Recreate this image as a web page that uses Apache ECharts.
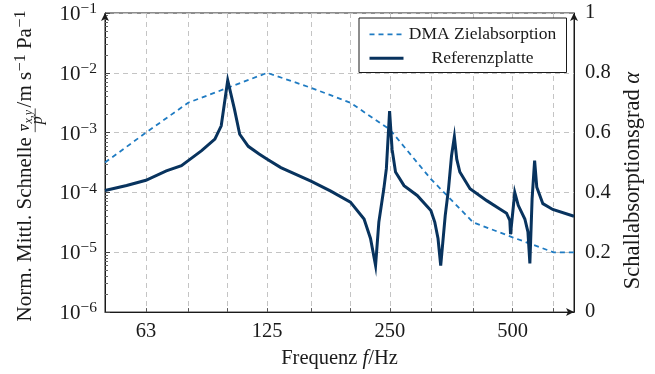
<!DOCTYPE html>
<html>
<head>
<meta charset="utf-8">
<script src="https://cdn.jsdelivr.net/npm/echarts@6/dist/echarts.min.js"></script>
<style>
  html, body { margin: 0; padding: 0; background: #fff; }
  #chart { width: 655px; height: 374px; }
</style>
</head>
<body>
<div id="chart"></div>
<script>
// Third-octave band centre frequencies used for grid lines and ticks (Hz)
const bandFreqs = [63, 80, 100, 125, 160, 200, 250, 315, 400, 500, 630];
const freqLabels = [63, 125, 250, 500];
const freqMin = 50;
const freqMax = 707;

// Minor ticks of the logarithmic velocity axis
const minorTicks = [];
for (let e = -6; e < -1; e++) {
  for (let m = 2; m <= 9; m++) minorTicks.push(m * Math.pow(10, e));
}

// Target absorption coefficient (right axis)
const targetFreq  = [50, 63, 80, 100, 125, 160, 200, 250, 315, 400, 500, 630, 707];
const targetAlpha = [0.50, 0.60, 0.70, 0.75, 0.80, 0.75, 0.70, 0.61, 0.445, 0.30, 0.25, 0.20, 0.20];

// Normalised mean surface velocity of the reference plate (left axis)
const plateFreq = [50, 56.5, 63, 70.7, 77, 80, 86.3, 93, 96.4, 100, 103.9, 107, 112.3, 119.4, 125, 135, 160, 179, 200,
  216, 224, 230.5, 234.8, 241.5, 245, 249.5, 253, 258, 270.7, 291.6, 315, 322, 328, 333, 341.6, 348, 354,
  359.7, 364.6, 371, 393, 432, 465, 483, 492, 494, 506, 516, 535.6, 545, 551, 558, 566, 573, 593, 627, 707];
const plateVel = [1.08e-4, 1.31e-4, 1.6e-4, 2.29e-4, 2.8e-4, 3.4e-4, 5.0e-4, 7.8e-4, 1.3e-3, 7.5e-3, 2.45e-3, 9.4e-4,
  5.9e-4, 4.4e-4, 3.6e-4, 2.6e-4, 1.55e-4, 1.05e-4, 6.9e-5,
  3.6e-5, 1.7e-5, 6.0e-6, 3.2e-5, 1.15e-4, 2.5e-4, 2.3e-3, 5.3e-4, 2.2e-4, 1.3e-4, 8.9e-5, 5.0e-5, 3.2e-5,
  1.7e-5, 6.0e-6, 4.1e-5, 1.15e-4, 4.1e-4,
  8.5e-4, 3.6e-4, 2.2e-4, 1.15e-4, 7.3e-5, 5.3e-5, 4.5e-5, 3.4e-5, 2.0e-5, 1.0e-4, 6.1e-5, 3.6e-5, 2.2e-5,
  6.5e-6, 7.8e-5, 3.4e-4, 1.22e-4, 6.5e-5, 5.2e-5, 4.0e-5];

const FONT = "'Liberation Serif', 'Times New Roman', serif";
const TEXT = '#1a1a1a';
const AXIS = '#1a1a1a';
const GRID = '#c4c4c4';
const DARK = '#08335e';
const LIGHT = '#1f7bc2';

const zip = (xs, ys) => xs.map((x, i) => [x, ys[i]]);

const chart = echarts.init(document.getElementById('chart'), null, { renderer: 'canvas' });

// text measuring for the composed left axis title
const mctx = document.createElement('canvas').getContext('2d');
function tw(s, size, italic) {
  mctx.font = (italic ? 'italic ' : '') + size + 'px ' + FONT;
  return mctx.measureText(s).width;
}

// Left axis title: "Norm. Mittl. Schnelle  v̄_{x,y}/p  /m s^-1 Pa^-1", read bottom to top
function buildLeftTitle() {
  const F = 21, FS = 16, FSS = 12;
  const kids = [];
  // place text so that its alphabetic baseline lies at local y = bl
  function txt(s, x, bl, size, italic) {
    kids.push({
      type: 'text', x: x, y: bl - 0.34 * size,
      style: { text: s, font: (italic ? 'italic ' : '') + size + 'px ' + FONT,
               fill: TEXT, align: 'left', verticalAlign: 'middle' }
    });
    return x + tw(s, size, italic);
  }
  function line(x1, y1, x2, y2, w) {
    kids.push({ type: 'line', shape: { x1, y1, x2, y2 }, style: { stroke: TEXT, lineWidth: w } });
  }
  let x = txt('Norm. Mittl. Schnelle', 0, 0, F, false);
  x += 5;
  const xf = x;
  const wv = tw('v', FS, true);
  const wsub = tw('x,y', FSS, true);
  const wNum = wv + wsub + 2;
  txt('v', xf + 1, -2.5, FS, true);
  line(xf + 1.5, -11.5, xf + 1 + wv, -11.5, 0.8);
  txt('x,y', xf + 1.5 + wv, 0.3, FSS, true);
  line(xf, 2.2, xf + wNum + 1, 2.2, 0.8);
  const wp = tw('p', FS, true);
  txt('p', xf + (wNum + 1 - wp) / 2, 10.5, FS, true);
  x = xf + wNum + 2;
  x = txt('/m s', x, 0, F, false);
  x = txt('\u22121', x + 0.5, -6.5, FS, false);
  x = txt(' Pa', x, 0, F, false);
  x = txt('\u22121', x + 0.5, -6.5, FS, false);
  return { type: 'group', x: 33, y: 321.5, rotation: Math.PI / 2, children: kids, silent: true };
}

const option = {
  animation: false,
  backgroundColor: '#fff',
  textStyle: { fontFamily: FONT },
  grid: { left: 105, right: 81, top: 13, bottom: 60, show: true,
          borderColor: AXIS, borderWidth: 1, backgroundColor: 'transparent' },
  legend: {
    left: 359, top: 18, orient: 'vertical',
    backgroundColor: '#fff', borderColor: AXIS, borderWidth: 1, borderRadius: 0,
    padding: [7.3, 10, 5.2, 9], itemGap: 6, itemWidth: 34, itemHeight: 20,
    itemStyle: { opacity: 0 },
    data: [
      { name: 'DMA Zielabsorption', lineStyle: { width: 1.8 } },
      { name: 'Referenzplatte', lineStyle: { width: 3 } }
    ],
    formatter: name => '{c|' + name + '}',
    textStyle: {
      fontFamily: FONT, fontSize: 17.5, color: TEXT,
      rich: { c: { fontFamily: FONT, fontSize: 17.5, color: TEXT, width: 148, align: 'center', lineHeight: 20 } }
    }
  },
  xAxis: {
    type: 'log', logBase: 10, min: freqMin, max: freqMax,
    name: '{n|Frequenz }{i|f}{n|/Hz}', nameLocation: 'middle', nameGap: 33,
    nameTextStyle: {
      rich: {
        n: { fontFamily: FONT, fontSize: 20.5, color: TEXT, lineHeight: 22 },
        i: { fontFamily: FONT, fontSize: 20.5, fontStyle: 'italic', color: TEXT, lineHeight: 22 }
      }
    },
    axisLine: { show: true, lineStyle: { color: AXIS, width: 1 }, symbol: ['none', 'arrow'], symbolSize: [6, 8] },
    axisTick: { show: true, inside: true, length: 4, customValues: bandFreqs, lineStyle: { color: '#555' } },
    minorTick: { show: false },
    axisLabel: { customValues: freqLabels, formatter: v => String(Math.round(v)),
                 fontFamily: FONT, fontSize: 20.5, color: TEXT, margin: 9, lineHeight: 22 },
    splitLine: { show: true, lineStyle: { type: [5, 4], color: GRID, width: 1 } }
  },
  yAxis: [
    {
      type: 'log', logBase: 10, min: 1e-6, max: 1e-1, position: 'left',
      axisLine: { show: true, lineStyle: { color: AXIS, width: 1 }, symbol: ['none', 'arrow'], symbolSize: [6, 8] },
      axisTick: { show: true, inside: true, length: 5, lineStyle: { color: '#444' } },
      axisLabel: {
        margin: 8,
        formatter: v => '{b|10}{s|\u2212' + Math.abs(Math.round(Math.log10(v))) + '}',
        rich: {
          b: { fontFamily: FONT, fontSize: 21, color: TEXT, lineHeight: 24, verticalAlign: 'bottom' },
          s: { fontFamily: FONT, fontSize: 15.5, color: TEXT, lineHeight: 10, verticalAlign: 'top' }
        }
      },
      splitLine: { show: false }
    },
    {
      type: 'value', min: 0, max: 1, interval: 0.2, position: 'right',
      name: 'Schallabsorptionsgrad {i|\u03b1}', nameLocation: 'middle', nameRotate: 90, nameGap: 47,
      nameTextStyle: { fontFamily: FONT, fontSize: 22.5, color: TEXT, padding: [0, 36, 0, 0],
        rich: { i: { fontFamily: FONT, fontSize: 22.5, fontStyle: 'italic', color: TEXT } } },
      axisLine: { show: true, lineStyle: { color: AXIS, width: 1 }, symbol: ['none', 'arrow'], symbolSize: [6, 8] },
      axisTick: { show: false },
      axisLabel: { margin: 11, fontFamily: FONT, fontSize: 20.5, color: TEXT,
                   formatter: v => (Math.abs(v) < 1e-9 ? '0' : (Math.abs(v - 1) < 1e-9 ? '1' : v.toFixed(1))) },
      splitLine: { show: true, lineStyle: { type: [5, 4], color: GRID, width: 1 } }
    },
    {
      type: 'log', logBase: 10, min: 1e-6, max: 1e-1, position: 'left',
      axisLine: { show: false },
      axisTick: { show: true, inside: true, length: 3, customValues: minorTicks, lineStyle: { color: '#666' } },
      axisLabel: { show: false },
      splitLine: { show: false }
    }
  ],
  series: [
    {
      name: 'DMA Zielabsorption', type: 'line', yAxisIndex: 1, symbol: 'none', z: 3,
      data: zip(targetFreq, targetAlpha),
      lineStyle: { color: LIGHT, width: 1.8, type: [5, 4] },
      itemStyle: { color: LIGHT }
    },
    {
      name: 'Referenzplatte', type: 'line', yAxisIndex: 0, symbol: 'none', z: 4,
      data: zip(plateFreq, plateVel),
      lineStyle: { color: DARK, width: 3, join: 'miter', miterLimit: 10 },
      itemStyle: { color: DARK }
    }
  ],
  graphic: [buildLeftTitle()]
};

chart.setOption(option);
</script>
</body>
</html>
